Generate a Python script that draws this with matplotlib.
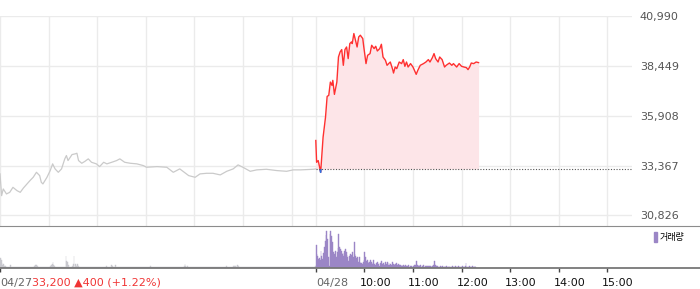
import matplotlib.pyplot as plt
from matplotlib.patches import Patch, Rectangle

# intraday price, minutes counted from 09:00 (04/27 session)
day1_min = [0, 2, 4, 8, 12, 16, 21, 25, 29, 37, 41, 45, 49, 51, 53, 58, 62, 65, 68, 72,
            76, 80, 82, 84, 89, 93, 95, 97, 101, 105, 109, 113, 119, 123, 128, 132, 138, 144, 148, 154,
            161, 169, 177, 181, 194, 206, 214, 222, 233, 241, 247, 255, 263, 272, 280, 288, 294, 300, 309, 317,
            329, 342, 354, 362, 371, 387, 390]
day1_price = [32947, 31838, 32180, 31925, 32007, 32262, 32093, 32007, 32232, 32605, 32774, 33029, 32860, 32518, 32436, 32774, 33116, 33459, 33203, 33029,
              33203, 33714, 33883, 33627, 33934, 33970, 34001, 33627, 33489, 33591, 33714, 33540, 33459, 33320, 33540, 33459, 33540, 33627, 33714, 33540,
              33489, 33459, 33372, 33285, 33320, 33285, 33029, 33203, 32860, 32774, 32947, 32978, 32978, 32896, 33080, 33203, 33407, 33285, 33080, 33152,
              33183, 33116, 33080, 33152, 33152, 33183, 33200]

# 04/28 session, minutes from 09:00
day2_min = [0, 1, 3, 6, 9, 12, 14, 16, 18, 20, 21, 23, 26, 28, 30, 32, 34, 36, 38, 40,
            42, 44, 45, 47, 49, 51, 53, 55, 58, 59, 62, 64, 67, 69, 72, 74, 76, 79, 81, 83,
            86, 88, 90, 92, 95, 96, 98, 100, 103, 106, 108, 110, 112, 114, 117, 120, 124, 126, 129, 133,
            136, 139, 141, 144, 146, 148, 151, 153, 156, 159, 161, 165, 168, 170, 174, 177, 180, 183, 186, 188,
            190, 192, 195, 198, 201]
day2_price = [34650, 33540, 33627, 33029, 34819, 35841, 36900, 36951, 37631, 37462, 37718, 37002, 37631, 38909, 39165, 39287, 38485, 39287, 39420, 38827,
              39594, 39676, 39594, 40105, 39763, 39420, 39932, 40019, 39850, 39507, 38572, 38996, 39083, 39507, 39339, 39456, 39216, 39339, 39558, 38909,
              38740, 38485, 38572, 38653, 38265, 38091, 38398, 38316, 38653, 38572, 38776, 38434, 38653, 38398, 38572, 38398, 38024, 38229, 38485, 38572,
              38653, 38776, 38653, 38878, 39083, 38827, 38653, 38909, 38776, 38398, 38485, 38602, 38485, 38572, 38398, 38572, 38434, 38398, 38367, 38265,
              38398, 38602, 38572, 38653, 38623]

prev_close = 33200
y_ticks = [30826, 33367, 35908, 38449, 40990]

# per-minute volume (hundreds of shares)
vol_day1 = [100, 80, 50, 30, 40, 25, 20, 18, 15, 17, 12, 14, 30, 16, 12, 15, 14, 18, 12, 10, 13, 15, 11, 14, 12, 16, 13, 15, 12, 14,
            15, 13, 16, 14, 18, 15, 17, 14, 13, 15, 16, 14, 25, 30, 20, 30, 22, 15, 13, 12, 14, 13, 11, 15, 12, 14, 13, 12, 15, 14,
            16, 18, 25, 30, 40, 60, 35, 20, 15, 13, 12, 14, 13, 15, 12, 11, 14, 12, 13, 15, 18, 120, 70, 60, 30, 18, 15, 14, 16, 20,
            40, 120, 15, 40, 20, 40, 22, 16, 14, 15, 12, 13, 14, 12, 11, 15, 13, 12, 14, 13, 11, 12, 14, 13, 12, 15, 11, 13, 14, 12,
            13, 12, 15, 14, 12, 11, 13, 14, 12, 15, 13, 20, 14, 12, 13, 16, 14, 30, 25, 14, 13, 12, 30, 15, 13, 12, 14, 11, 13, 12,
            12, 14, 11, 13, 12, 15, 11, 13, 12, 14, 11, 12, 13, 11, 14, 12, 13, 11, 12, 14, 11, 13, 12, 11, 14, 12, 13, 11, 12, 13,
            14, 12, 13, 15, 18, 20, 15, 14, 13, 12, 11, 13, 12, 14, 11, 12, 13, 11, 12, 14, 12, 11, 13, 12, 11, 14, 12, 13, 11, 12,
            13, 11, 12, 14, 11, 12, 13, 11, 12, 13, 14, 12, 11, 13, 12, 15, 18, 25, 40, 22, 18, 20, 16, 14, 13, 15, 12, 14, 13, 12,
            11, 13, 12, 14, 11, 12, 13, 12, 11, 14, 12, 13, 11, 12, 13, 11, 12, 14, 11, 12, 13, 12, 11, 13, 14, 12, 11, 12, 13, 11,
            12, 13, 11, 12, 14, 12, 13, 15, 18, 20, 16, 18, 14, 13, 12, 15, 14, 16, 20, 25, 22, 28, 18, 30, 20, 18, 15, 14, 16, 13,
            12, 14, 13, 12, 11, 13, 12, 14, 11, 12, 13, 11, 12, 14, 12, 13, 11, 12, 13, 12, 11, 14, 12, 11, 13, 12, 14, 11, 12, 13,
            12, 11, 13, 12, 14, 11, 12, 13, 11, 12, 14, 12, 13, 11, 12, 13, 12, 11, 14, 12, 13, 11, 12, 14, 11, 12, 13, 12, 11, 13,
            12, 14, 11, 12, 13, 12, 11, 13, 12, 14, 11, 12, 13, 15, 12, 11, 13, 12, 14, 12, 13, 11, 12, 14, 12, 13, 15, 12, 14, 20]
vol_day2 = [230, 140, 120, 90, 100, 80, 170, 120, 90, 150,
            210, 270, 330, 370, 290, 110, 20, 340, 370, 320,
            260, 160, 120, 140, 170, 110, 160, 200, 340, 210,
            190, 170, 140, 150, 120, 170, 190, 160, 130, 110,
            70, 120, 140, 120, 130, 160, 110, 260, 140, 120,
            100, 110, 60, 110, 60, 50, 50, 40, 60, 80,
            160, 110, 70, 80, 60, 50, 60, 80, 60, 50,
            40, 80, 40, 30, 50, 40, 60, 40, 20, 50,
            50, 70, 40, 50, 30, 40, 60, 40, 60, 30,
            50, 30, 40, 30, 60, 40, 40, 30, 40, 50,
            30, 30, 40, 30, 30, 25, 30, 20, 35, 25,
            30, 20, 25, 20, 30, 15, 20, 25, 20, 15,
            20, 30, 25, 30, 70, 30, 20, 30, 25, 30,
            15, 20, 25, 30, 15, 20, 25, 20, 15, 20,
            20, 25, 15, 20, 25, 30, 70, 30, 20, 25,
            20, 15, 10, 20, 25, 15, 20, 15, 10, 20,
            15, 20, 10, 15, 20, 15, 10, 15, 20, 10,
            15, 10, 20, 15, 10, 15, 20, 10, 15, 10,
            15, 20, 10, 15, 20, 50, 15, 10, 15, 20,
            10, 15, 10, 20, 15, 10, 20, 15]

tick_labels = ['04/27', '04/28', '10:00', '11:00', '12:00', '13:00', '14:00', '15:00']
summary = '33,200 \u25b2400 (+1.22%)'

session = 390  # minutes per session
t2 = [session + m for m in day2_min]

fig = plt.figure(figsize=(7, 2.89), dpi=100)
ax = fig.add_axes([0, 1 - 226 / 289, 631.6 / 700, 210 / 289])
axv = fig.add_axes([0, 1 - 268.3 / 289, 1, 42.3 / 289])

# price panel
ax.set_xlim(0, 2 * session)
ax.set_ylim(30290, 41000)
for s in ax.spines.values():
    s.set_visible(False)
for m in list(range(0, session, 60)) + list(range(session, 2 * session, 60)):
    ax.axvline(m, color='#ebebeb', lw=1, zorder=0)
for v in y_ticks:
    ax.axhline(v, color='#ebebeb', lw=1, zorder=0)
ax.set_xticks([])
ax.yaxis.tick_right()
ax.set_yticks(y_ticks)
ax.set_yticklabels([f'{v:,}' for v in y_ticks])
ax.tick_params(axis='y', length=0, pad=6, labelsize=8, labelcolor='#555555')

ax.plot(day1_min, day1_price, color='#cacaca', lw=0.9)
ax.fill_between(t2, day2_price, prev_close, color='#fde5e8', lw=0)
ax.plot(t2, day2_price, color='#ff3030', lw=1)
# part below previous close drawn in blue
blue, = ax.plot(t2, day2_price, color='#2f6fe0', lw=1.2)
blue.set_clip_path(Rectangle((session, 0), session, prev_close, transform=ax.transData))
ax.hlines(prev_close, session, 2 * session, color='#555555', lw=0.8, linestyles=(0, (1, 1.5)))

# volume panel
axv.set_xlim(0, 700 * (2 * session) / 631.6)
axv.set_ylim(0, 423)
axv.bar(range(len(vol_day1)), vol_day1, width=1, align='edge', color='#c8c8ce',
        edgecolor='#c8c8ce', lw=0.3)
axv.bar([session + i for i in range(len(vol_day2))], vol_day2, width=1, align='edge',
        color='#9b86c6', edgecolor='#9b86c6', lw=0.3)
axv.spines['left'].set_visible(False)
axv.spines['right'].set_visible(False)
axv.spines['top'].set_color('#8c8c8c')
axv.spines['bottom'].set_color('#777777')
axv.spines['bottom'].set_linewidth(1.3)
axv.set_yticks([])
tick_pos = [0, session] + list(range(session + 60, 2 * session, 60))
axv.set_xticks(tick_pos)
axv.set_xticklabels([])
axv.tick_params(axis='x', length=3, width=1, color='#444444')

lbl = axv.annotate(tick_labels[0], xy=(0, 0), xycoords=('data', 'axes fraction'), xytext=(0, -10.3),
                   textcoords='offset points', ha='left', va='center', fontsize=8, color='#666666')
axv.annotate(summary, xy=(1, 0.5), xycoords=lbl, ha='left', va='center', fontsize=8, color='#f03535')
axv.annotate(tick_labels[1], xy=(session, 0), xycoords=('data', 'axes fraction'), xytext=(0, -10.3),
             textcoords='offset points', ha='left', va='center', fontsize=8, color='#666666')
for pos, txt in zip(tick_pos[2:], tick_labels[2:]):
    axv.annotate(txt, xy=(pos, 0), xycoords=('data', 'axes fraction'), xytext=(-3.6, -10.3),
                 textcoords='offset points', ha='left', va='center', fontsize=8, color='#111111')

axv.legend(handles=[Patch(color='#9b86c6')], labels=['거래량'], loc='upper right',
           bbox_to_anchor=(1 - 10 / 700, 0.98), frameon=False, handlelength=0.3, handleheight=1.3,
           handletextpad=0.3, borderaxespad=0.2,
           prop={'family': ['Noto Sans CJK KR', 'DejaVu Sans'], 'size': 6.5})

fig.savefig('out.png', dpi=100)
